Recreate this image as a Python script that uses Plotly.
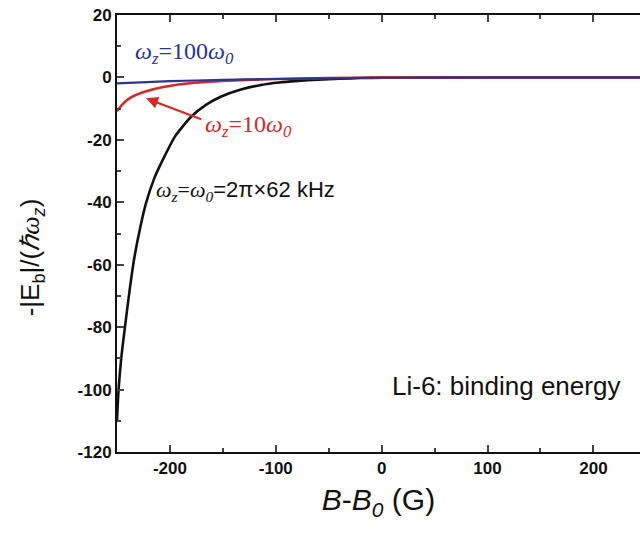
import plotly.graph_objects as go

# Data (B-B0 in G, -|Eb|/(hbar w_z))
B_black = [-250, -248.7, -246, -242.5, -238, -234, -228, -222.6, -215, -206.9, -195, -180, -166, -152, -133, -114, -97, -79.5, -60, -40, -20, 0, 100, 244]
E_black = [-110, -101, -90, -80, -68, -58.5, -48, -40.3, -32.5, -26.5, -18.8, -12.6, -8.8, -6.2, -3.9, -2.4, -1.6, -1.1, -0.7, -0.4, -0.2, -0.1, 0, 0]

B_red = [-250, -244, -236.8, -224, -205, -177, -145.6, -120, -100, -50, 0, 244]
E_red = [-10.8, -8.3, -6.4, -4.6, -3.0, -1.7, -1.06, -0.7, -0.5, -0.2, -0.05, 0]

B_blue = [-250, -200, -150, -100, -50, 0, 100, 244]
E_blue = [-1.9, -1.2, -0.8, -0.5, -0.3, -0.1, 0, 0]

x_ticks = [-200, -100, 0, 100, 200]
x_ticktext = ["-200", "-100", "0", "100", "200"]
y_ticks = [20, 0, -20, -40, -60, -80, -100, -120]
y_ticktext = ["20", "0", "-20", "-40", "-60", "-80", "-100", "-120"]

BLACK = "#111111"
RED = "#d42a2a"
BLUE = "#2b3590"

fig = go.Figure()
fig.add_trace(go.Scatter(x=B_black, y=E_black, mode="lines",
                         line=dict(color=BLACK, width=2.6, shape="spline", smoothing=0.6)))
fig.add_trace(go.Scatter(x=B_red, y=E_red, mode="lines",
                         line=dict(color=RED, width=2.6, shape="spline", smoothing=0.6)))
fig.add_trace(go.Scatter(x=B_blue, y=E_blue, mode="lines",
                         line=dict(color=BLUE, width=2.2, shape="spline", smoothing=0.6)))

serif = "Liberation Serif"
sans = "Liberation Sans"

fig.add_annotation(x=-222.6, y=-6.7, ax=-169, ay=-13.6, xref="x", yref="y", axref="x", ayref="y",
                   text="", showarrow=True, arrowhead=2, arrowsize=1.1, arrowwidth=2.2, arrowcolor=RED)

fig.add_annotation(x=0.03, y=0.913, xref="paper", yref="paper", xanchor="left", yanchor="middle",
                   text="<i>ω</i><sub><i>z</i></sub>=100<i>ω</i><sub><i>0</i></sub>",
                   showarrow=False, font=dict(family=serif, size=24, color=BLUE))
fig.add_annotation(x=0.164, y=0.745, xref="paper", yref="paper", xanchor="left", yanchor="middle",
                   text="<i>ω</i><sub><i>z</i></sub>=10<i>ω</i><sub><i>0</i></sub>",
                   showarrow=False, font=dict(family=serif, size=24, color=RED))
fig.add_annotation(x=0.07, y=0.597, xref="paper", yref="paper", xanchor="left", yanchor="middle",
                   text='<span style="font-family:Liberation Serif"><i>ω</i><sub><i>z</i></sub>=<i>ω</i><sub><i>0</i></sub></span>=2π×62 kHz',
                   showarrow=False, font=dict(family=sans, size=22, color=BLACK))
fig.add_annotation(x=0.965, y=0.152, xref="paper", yref="paper", xanchor="right", yanchor="middle",
                   text="Li-6: binding energy",
                   showarrow=False, font=dict(family=sans, size=26, color=BLACK))

# y-axis title
fig.add_annotation(x=-0.164, y=0.446, xref="paper", yref="paper", xanchor="center", yanchor="middle",
                   textangle=-90,
                   text='-|E<sub>b</sub>|/(<span style="font-family:Liberation Serif"><i>ℏω</i></span><sub><i>z</i></sub>)',
                   showarrow=False, font=dict(family=sans, size=26, color=BLACK))

fig.update_layout(
    width=640, height=538,
    margin=dict(l=117, r=0, t=15, b=86),
    paper_bgcolor="white", plot_bgcolor="white",
    showlegend=False,
    xaxis=dict(range=[-250, 244], tickvals=x_ticks, ticktext=x_ticktext, ticks="inside", ticklen=7, tickwidth=1.5,
               showline=True, linecolor=BLACK, linewidth=2, mirror="ticks", showgrid=False, zeroline=False,
               minor=dict(ticks="inside", ticklen=4, dtick=50, tickwidth=1.5, showgrid=False),
               tickfont=dict(family=sans, size=17, color=BLACK, weight="bold"),
               title=dict(text="<i>B</i>-<i>B</i><sub><i>0</i></sub> (G)", standoff=12,
                          font=dict(family=sans, size=30, color=BLACK))),
    yaxis=dict(range=[-120, 20], tickvals=y_ticks, ticktext=y_ticktext, ticks="inside", ticklen=7, tickwidth=1.5,
               showline=True, linecolor=BLACK, linewidth=2, mirror=False, showgrid=False, zeroline=False,
               minor=dict(ticks="inside", ticklen=4, dtick=10, tickwidth=1.5, showgrid=False),
               tickfont=dict(family=sans, size=17, color=BLACK, weight="bold")),
)

fig.write_html("out.html")
